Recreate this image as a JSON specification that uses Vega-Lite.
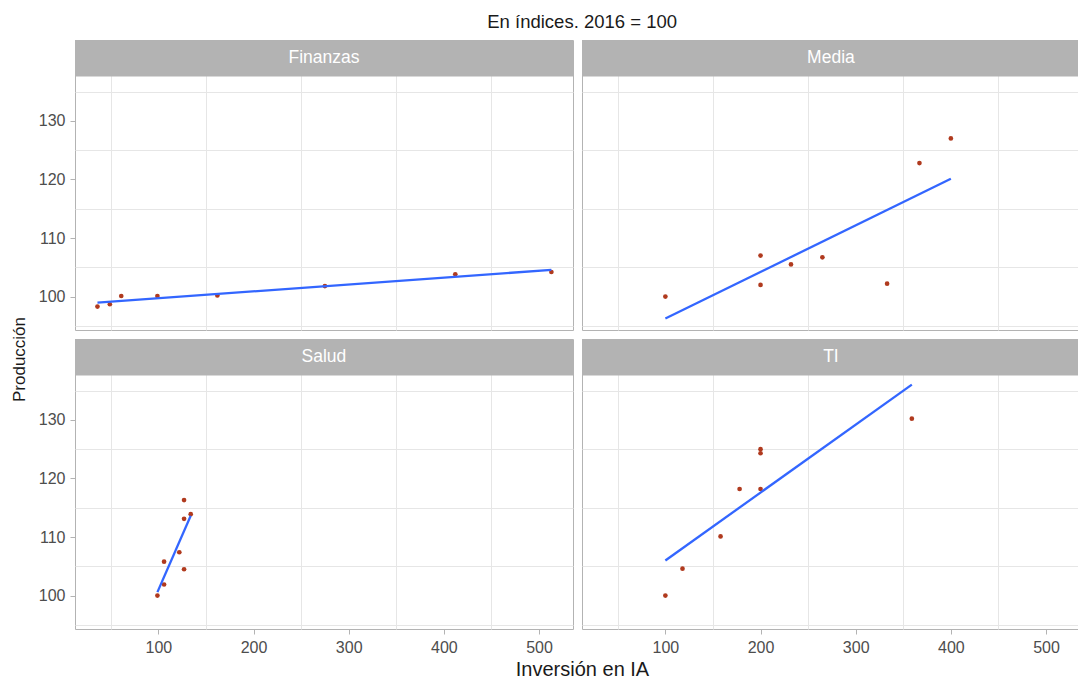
{
  "$schema": "https://vega.github.io/schema/vega-lite/v6.json",
  "padding": {"left": 9, "right": 0, "top": 13, "bottom": 0},
  "background": "white",
  "title": {"text": "En índices. 2016 = 100", "anchor": "middle", "dx": 37, "fontSize": 18.5, "fontWeight": "normal", "color": "#1a1a1a", "font": "Liberation Sans", "offset": 8},
  "data": {"values": [
    {"sector": "Finanzas", "inv": 36, "prod": 98.3},
    {"sector": "Finanzas", "inv": 49, "prod": 98.7},
    {"sector": "Finanzas", "inv": 61, "prod": 100.1},
    {"sector": "Finanzas", "inv": 99, "prod": 100.1},
    {"sector": "Finanzas", "inv": 162, "prod": 100.2},
    {"sector": "Finanzas", "inv": 275, "prod": 101.8},
    {"sector": "Finanzas", "inv": 412, "prod": 103.8},
    {"sector": "Finanzas", "inv": 513, "prod": 104.2},
    {"sector": "Media", "inv": 100, "prod": 100.0},
    {"sector": "Media", "inv": 200, "prod": 107.0},
    {"sector": "Media", "inv": 200, "prod": 102.0},
    {"sector": "Media", "inv": 232, "prod": 105.5},
    {"sector": "Media", "inv": 265, "prod": 106.7},
    {"sector": "Media", "inv": 333, "prod": 102.2},
    {"sector": "Media", "inv": 367, "prod": 122.8},
    {"sector": "Media", "inv": 400, "prod": 127.0},
    {"sector": "Salud", "inv": 99, "prod": 100.0},
    {"sector": "Salud", "inv": 106, "prod": 101.9},
    {"sector": "Salud", "inv": 106, "prod": 105.8},
    {"sector": "Salud", "inv": 122, "prod": 107.4},
    {"sector": "Salud", "inv": 127, "prod": 104.5},
    {"sector": "Salud", "inv": 127, "prod": 113.1},
    {"sector": "Salud", "inv": 127, "prod": 116.3},
    {"sector": "Salud", "inv": 134, "prod": 113.9},
    {"sector": "TI", "inv": 100, "prod": 100.0},
    {"sector": "TI", "inv": 118, "prod": 104.6},
    {"sector": "TI", "inv": 158, "prod": 110.1},
    {"sector": "TI", "inv": 178, "prod": 118.2},
    {"sector": "TI", "inv": 200, "prod": 118.2},
    {"sector": "TI", "inv": 200, "prod": 124.3},
    {"sector": "TI", "inv": 200, "prod": 125.0},
    {"sector": "TI", "inv": 359, "prod": 130.2}
  ]},
  "columns": 2,
  "spacing": 9,
  "bounds": "flush",
  "concat": [
    {
      "width": 498, "height": 290,
      "transform": [{"filter": "datum.sector === 'Finanzas'"}],
      "resolve": {"axis": {"x": "independent", "y": "independent"}},
      "layer": [
        {
          "mark": {"type": "point", "filled": true, "opacity": 1, "size": 22, "color": "#B03A1E"},
          "encoding": {
            "x": {"field": "inv", "type": "quantitative", "scale": {"domain": [12.4, 535.7], "nice": false, "zero": false},
                  "axis": {"values": [50, 150, 250, 350, 450], "orient": "bottom", "labels": false, "ticks": false, "title": null, "gridColor": "#e6e6e6", "gridWidth": 1}},
            "y": {"field": "prod", "type": "quantitative", "scale": {"domain": [94.3, 143.8], "nice": false, "zero": false},
                  "axis": {"values": [95, 105, 115, 125, 135], "orient": "left", "labels": false, "ticks": false, "title": null, "gridColor": "#e6e6e6", "gridWidth": 1}}
          }
        },
        {
          "transform": [{"regression": "prod", "on": "inv"}],
          "mark": {"type": "line", "color": "#3366FF", "strokeWidth": 2.3},
          "encoding": {
            "x": {"field": "inv", "type": "quantitative", "axis": {"values": [100, 200, 300, 400, 500], "orient": "bottom", "labels": false, "ticks": false, "title": null}},
            "y": {"field": "prod", "type": "quantitative", "axis": {"values": [100, 110, 120, 130], "orient": "left", "title": null}}
          }
        },
        {
          "transform": [{"aggregate": [{"op": "count", "as": "n"}], "groupby": ["sector"]}],
          "mark": {"type": "rect", "color": "#b3b3b3", "opacity": 1},
          "encoding": {"x": {"datum": 12.4, "type": "quantitative", "axis": null}, "x2": {"datum": 535.7},
                       "y": {"datum": 137.55, "type": "quantitative", "axis": null}, "y2": {"datum": 143.8}}
        },
        {
          "transform": [{"aggregate": [{"op": "count", "as": "n"}], "groupby": ["sector"]}],
          "mark": {"type": "text", "color": "white", "fontSize": 17.5, "font": "Liberation Sans", "baseline": "middle", "align": "center"},
          "encoding": {"x": {"datum": 274, "type": "quantitative", "axis": null}, "y": {"datum": 140.7, "type": "quantitative", "axis": null},
                       "text": {"field": "sector", "type": "nominal"}}
        }
      ]
    },
    {
      "width": 498, "height": 290,
      "transform": [{"filter": "datum.sector === 'Media'"}],
      "resolve": {"axis": {"x": "independent", "y": "independent"}},
      "layer": [
        {
          "mark": {"type": "point", "filled": true, "opacity": 1, "size": 22, "color": "#B03A1E"},
          "encoding": {
            "x": {"field": "inv", "type": "quantitative", "scale": {"domain": [12.4, 535.7], "nice": false, "zero": false},
                  "axis": {"values": [50, 150, 250, 350, 450], "orient": "bottom", "labels": false, "ticks": false, "title": null, "gridColor": "#e6e6e6", "gridWidth": 1}},
            "y": {"field": "prod", "type": "quantitative", "scale": {"domain": [94.3, 143.8], "nice": false, "zero": false},
                  "axis": {"values": [95, 105, 115, 125, 135], "orient": "left", "labels": false, "ticks": false, "title": null, "gridColor": "#e6e6e6", "gridWidth": 1}}
          }
        },
        {
          "transform": [{"regression": "prod", "on": "inv"}],
          "mark": {"type": "line", "color": "#3366FF", "strokeWidth": 2.3},
          "encoding": {
            "x": {"field": "inv", "type": "quantitative", "axis": {"values": [100, 200, 300, 400, 500], "orient": "bottom", "labels": false, "ticks": false, "title": null}},
            "y": {"field": "prod", "type": "quantitative", "axis": {"values": [100, 110, 120, 130], "orient": "left", "labels": false, "ticks": false, "title": null}}
          }
        },
        {
          "transform": [{"aggregate": [{"op": "count", "as": "n"}], "groupby": ["sector"]}],
          "mark": {"type": "rect", "color": "#b3b3b3", "opacity": 1},
          "encoding": {"x": {"datum": 12.4, "type": "quantitative", "axis": null}, "x2": {"datum": 535.7},
                       "y": {"datum": 137.55, "type": "quantitative", "axis": null}, "y2": {"datum": 143.8}}
        },
        {
          "transform": [{"aggregate": [{"op": "count", "as": "n"}], "groupby": ["sector"]}],
          "mark": {"type": "text", "color": "white", "fontSize": 17.5, "font": "Liberation Sans", "baseline": "middle", "align": "center"},
          "encoding": {"x": {"datum": 274, "type": "quantitative", "axis": null}, "y": {"datum": 140.7, "type": "quantitative", "axis": null},
                       "text": {"field": "sector", "type": "nominal"}}
        }
      ]
    },
    {
      "width": 498, "height": 290,
      "transform": [{"filter": "datum.sector === 'Salud'"}],
      "resolve": {"axis": {"x": "independent", "y": "independent"}},
      "layer": [
        {
          "mark": {"type": "point", "filled": true, "opacity": 1, "size": 22, "color": "#B03A1E"},
          "encoding": {
            "x": {"field": "inv", "type": "quantitative", "scale": {"domain": [12.4, 535.7], "nice": false, "zero": false},
                  "axis": {"values": [50, 150, 250, 350, 450], "orient": "bottom", "labels": false, "ticks": false, "title": null, "gridColor": "#e6e6e6", "gridWidth": 1}},
            "y": {"field": "prod", "type": "quantitative", "scale": {"domain": [94.3, 143.8], "nice": false, "zero": false},
                  "axis": {"values": [95, 105, 115, 125, 135], "orient": "left", "labels": false, "ticks": false, "title": null, "gridColor": "#e6e6e6", "gridWidth": 1}}
          }
        },
        {
          "transform": [{"regression": "prod", "on": "inv"}],
          "mark": {"type": "line", "color": "#3366FF", "strokeWidth": 2.3},
          "encoding": {
            "x": {"field": "inv", "type": "quantitative", "axis": {"values": [100, 200, 300, 400, 500], "orient": "bottom", "title": "Inversión en IA", "titleX": 507, "titleFontSize": 20}},
            "y": {"field": "prod", "type": "quantitative", "axis": {"values": [100, 110, 120, 130], "orient": "left", "title": "Producción", "titleY": 20}}
          }
        },
        {
          "transform": [{"aggregate": [{"op": "count", "as": "n"}], "groupby": ["sector"]}],
          "mark": {"type": "rect", "color": "#b3b3b3", "opacity": 1},
          "encoding": {"x": {"datum": 12.4, "type": "quantitative", "axis": null}, "x2": {"datum": 535.7},
                       "y": {"datum": 137.55, "type": "quantitative", "axis": null}, "y2": {"datum": 143.8}}
        },
        {
          "transform": [{"aggregate": [{"op": "count", "as": "n"}], "groupby": ["sector"]}],
          "mark": {"type": "text", "color": "white", "fontSize": 17.5, "font": "Liberation Sans", "baseline": "middle", "align": "center"},
          "encoding": {"x": {"datum": 274, "type": "quantitative", "axis": null}, "y": {"datum": 140.7, "type": "quantitative", "axis": null},
                       "text": {"field": "sector", "type": "nominal"}}
        }
      ]
    },
    {
      "width": 498, "height": 290,
      "transform": [{"filter": "datum.sector === 'TI'"}],
      "resolve": {"axis": {"x": "independent", "y": "independent"}},
      "layer": [
        {
          "mark": {"type": "point", "filled": true, "opacity": 1, "size": 22, "color": "#B03A1E"},
          "encoding": {
            "x": {"field": "inv", "type": "quantitative", "scale": {"domain": [12.4, 535.7], "nice": false, "zero": false},
                  "axis": {"values": [50, 150, 250, 350, 450], "orient": "bottom", "labels": false, "ticks": false, "title": null, "gridColor": "#e6e6e6", "gridWidth": 1}},
            "y": {"field": "prod", "type": "quantitative", "scale": {"domain": [94.3, 143.8], "nice": false, "zero": false},
                  "axis": {"values": [95, 105, 115, 125, 135], "orient": "left", "labels": false, "ticks": false, "title": null, "gridColor": "#e6e6e6", "gridWidth": 1}}
          }
        },
        {
          "transform": [{"regression": "prod", "on": "inv"}],
          "mark": {"type": "line", "color": "#3366FF", "strokeWidth": 2.3},
          "encoding": {
            "x": {"field": "inv", "type": "quantitative", "axis": {"values": [100, 200, 300, 400, 500], "orient": "bottom", "title": null}},
            "y": {"field": "prod", "type": "quantitative", "axis": {"values": [100, 110, 120, 130], "orient": "left", "labels": false, "ticks": false, "title": null}}
          }
        },
        {
          "transform": [{"aggregate": [{"op": "count", "as": "n"}], "groupby": ["sector"]}],
          "mark": {"type": "rect", "color": "#b3b3b3", "opacity": 1},
          "encoding": {"x": {"datum": 12.4, "type": "quantitative", "axis": null}, "x2": {"datum": 535.7},
                       "y": {"datum": 137.55, "type": "quantitative", "axis": null}, "y2": {"datum": 143.8}}
        },
        {
          "transform": [{"aggregate": [{"op": "count", "as": "n"}], "groupby": ["sector"]}],
          "mark": {"type": "text", "color": "white", "fontSize": 17.5, "font": "Liberation Sans", "baseline": "middle", "align": "center"},
          "encoding": {"x": {"datum": 274, "type": "quantitative", "axis": null}, "y": {"datum": 140.7, "type": "quantitative", "axis": null},
                       "text": {"field": "sector", "type": "nominal"}}
        }
      ]
    }
  ],
  "config": {
    "font": "Liberation Sans",
    "view": {"stroke": "#b3b3b3", "strokeWidth": 1},
    "axis": {
      "domain": false,
      "tickColor": "#b3b3b3",
      "tickSize": 5,
      "labelFontSize": 16,
      "labelColor": "#4d4d4d",
      "gridColor": "#d9d9d9",
      "gridWidth": 1.2,
      "titleFontSize": 17,
      "titleFontWeight": "normal",
      "titleColor": "#1a1a1a"
    },
    "axisX": {"titlePadding": 4, "labelPadding": 5},
    "axisY": {"titlePadding": 10, "labelPadding": 5}
  }
}
